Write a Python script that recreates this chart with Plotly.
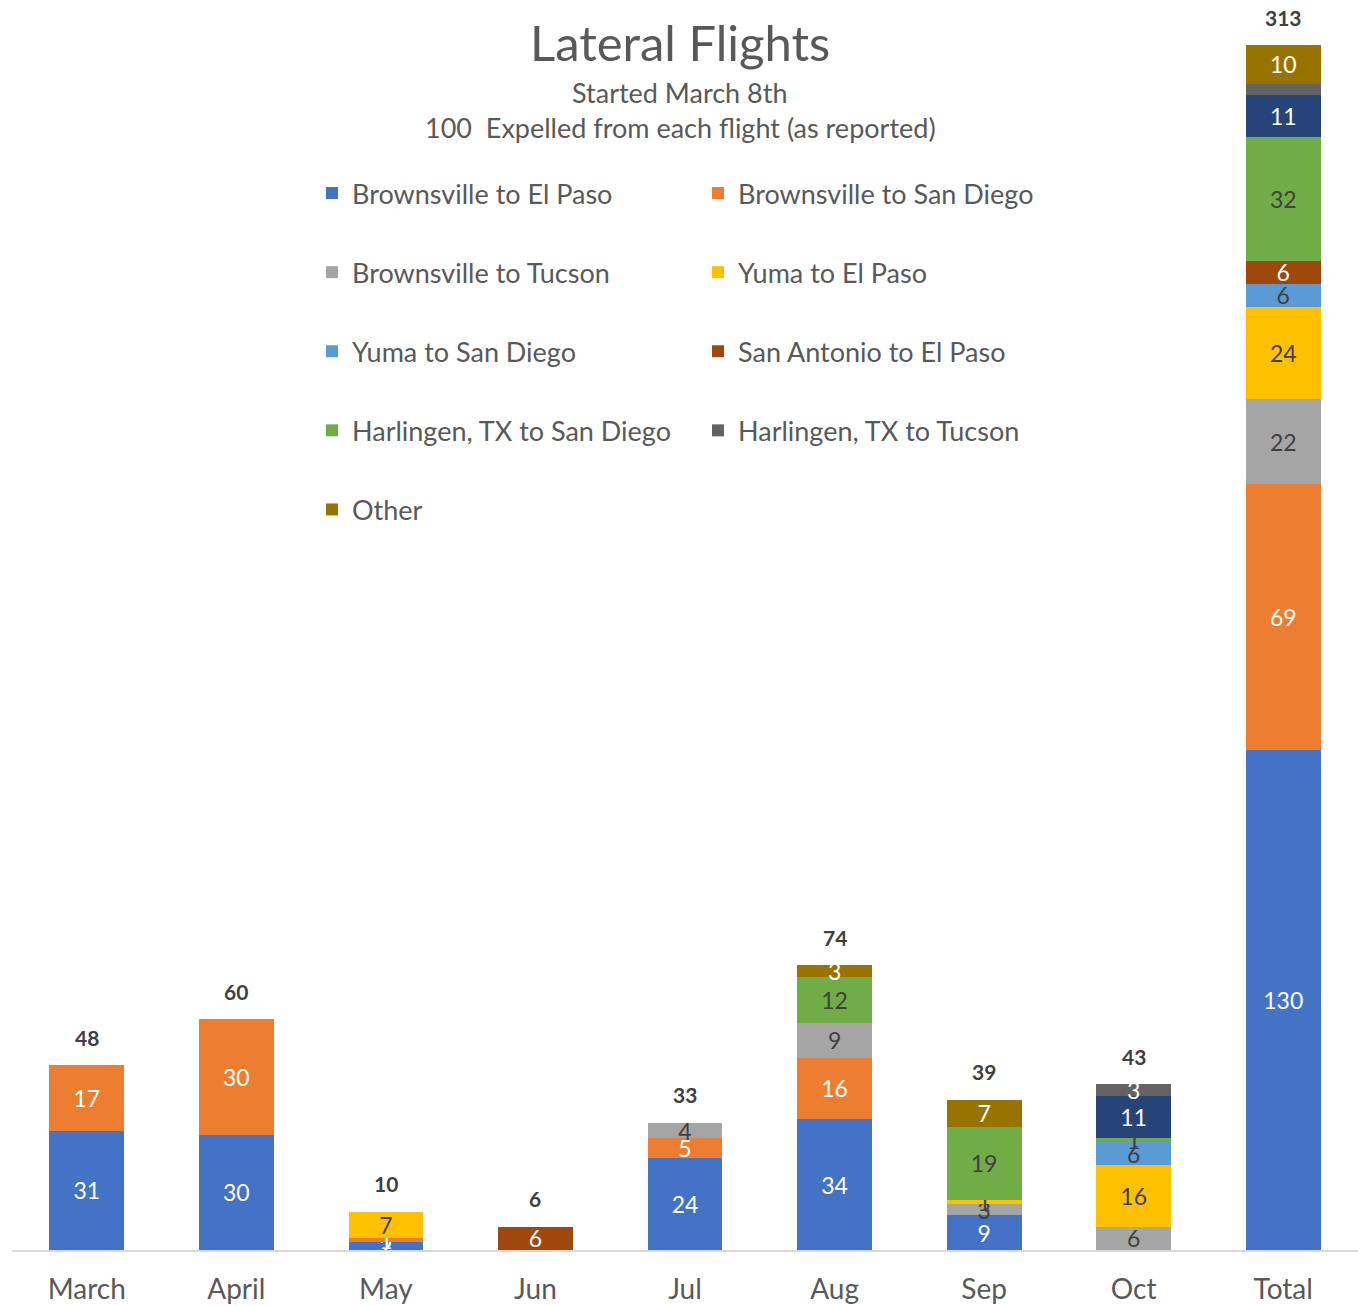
import plotly.graph_objects as go

categories = ["March", "April", "May", "Jun", "Jul", "Aug", "Sep", "Oct", "Total"]

bro_elp = [31, 30, 2, 0, 24, 34, 9, 0, 130]
bro_sd = [17, 30, 1, 0, 5, 16, 0, 0, 69]
bro_tuc = [0, 0, 0, 0, 4, 9, 3, 6, 22]
yuma_elp = [0, 0, 7, 0, 0, 0, 1, 16, 24]
yuma_sd = [0, 0, 0, 0, 0, 0, 0, 6, 6]
sa_elp = [0, 0, 0, 6, 0, 0, 0, 0, 6]
harl_sd = [0, 0, 0, 0, 0, 12, 19, 1, 32]
unlisted = [0, 0, 0, 0, 0, 0, 0, 11, 11]
harl_tuc = [0, 0, 0, 0, 0, 0, 0, 3, 3]
other = [0, 0, 0, 0, 0, 3, 7, 0, 10]

series = [
    ("Brownsville to El Paso", bro_elp, "#4472C4", "white", "legend"),
    ("Brownsville to San Diego", bro_sd, "#ED7D31", "white", "legend2"),
    ("Brownsville to Tucson", bro_tuc, "#A5A5A5", "#404040", "legend"),
    ("Yuma to El Paso", yuma_elp, "#FFC000", "#404040", "legend2"),
    ("Yuma to San Diego", yuma_sd, "#5B9BD5", "#404040", "legend"),
    ("San Antonio to El Paso", sa_elp, "#9E480E", "white", "legend2"),
    ("Harlingen, TX to San Diego", harl_sd, "#70AD47", "#404040", "legend"),
    ("Unlisted route", unlisted, "#264478", "white", None),
    ("Harlingen, TX to Tucson", harl_tuc, "#636363", "white", "legend2"),
    ("Other", other, "#997300", "white", "legend"),
]

FONT = "Lato, 'Open Sans', sans-serif"
TXT = "#595959"

fig = go.Figure()
for name, vals, color, tcolor, leg in series:
    labels = []
    for c, v in zip(categories, vals):
        if v == 0 or (name == "Harlingen, TX to Tucson" and c == "Total"):
            labels.append("")
        else:
            labels.append(str(v))
    kw = dict(legend=leg, showlegend=True) if leg else dict(showlegend=False)
    fig.add_trace(go.Bar(
        x=categories, y=vals, name=name, legendgroup=name,
        marker=dict(color=color, line=dict(width=0)),
        text=labels, textposition="inside", insidetextanchor="middle",
        textangle=0, constraintext="none",
        textfont=dict(family=FONT, size=23, color=tcolor),
        cliponaxis=False, hoverinfo="x+y+name", **kw))

totals = [sum(s[1][i] for s in series) for i in range(len(categories))]
for c, t in zip(categories, totals):
    fig.add_annotation(x=c, y=t, text="<b>%d</b>" % t, showarrow=False,
                       yshift=28, font=dict(family=FONT, size=21, color="#404040"))

def py(p):
    return (1250 - p) / 1205.0

TX = (680 - 12) / 1346.0
fig.add_annotation(xref="paper", yref="paper", x=TX, y=py(42), text="Lateral Flights",
                   showarrow=False, yanchor="middle", font=dict(family=FONT, size=49, color=TXT))
fig.add_annotation(xref="paper", yref="paper", x=TX, y=py(93), text="Started March 8th",
                   showarrow=False, yanchor="middle", font=dict(family=FONT, size=27, color=TXT))
fig.add_annotation(xref="paper", yref="paper", x=TX, y=py(128),
                   text="100\u00a0 Expelled from each flight (as reported)",
                   showarrow=False, yanchor="middle", font=dict(family=FONT, size=27, color=TXT))

legcommon = dict(orientation="v", y=py(169), yanchor="top", bgcolor="rgba(0,0,0,0)",
                 traceorder="grouped", tracegroupgap=41, borderwidth=0,
                 font=dict(family=FONT, size=27, color=TXT))

fig.update_layout(
    width=1358, height=1306,
    margin=dict(l=12, r=0, t=45, b=56),
    barmode="stack", bargap=0.5,
    plot_bgcolor="white", paper_bgcolor="white",
    legend=dict(x=(312 - 12) / 1346, xanchor="left", **legcommon),
    legend2=dict(x=(698 - 12) / 1346, xanchor="left", **legcommon),
    xaxis=dict(showline=True, linecolor="#D9D9D9", linewidth=2, ticks="",
               tickfont=dict(family=FONT, size=28, color=TXT), ticklabelstandoff=13,
               showgrid=False),
    yaxis=dict(range=[0, 313], visible=False, showgrid=False, zeroline=False),
    font=dict(family=FONT, color=TXT),
)

fig.write_html("out.html", config={"displayModeBar": False},
               post_script="document.body.style.margin='0';document.body.style.overflow='hidden';")
